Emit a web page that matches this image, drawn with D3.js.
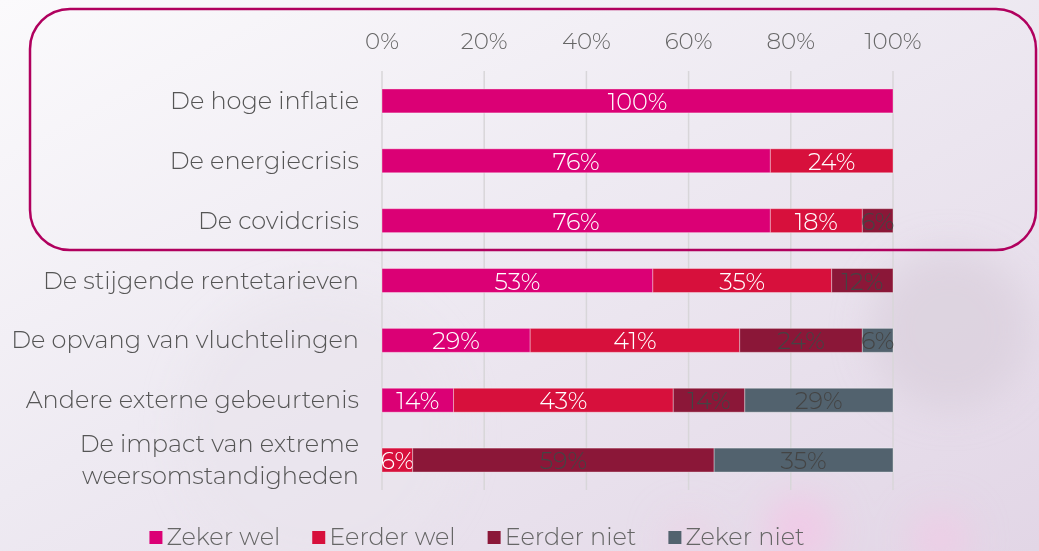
<!DOCTYPE html>
<meta charset="utf-8">
<style>
body { margin: 0; }
svg { display: block; font-family: "Montserrat", "Lato", sans-serif; font-weight: 300; }
</style>
<body>
<svg width="1039" height="551" id="chart"></svg>
<script src="https://d3js.org/d3.v7.min.js"></script>
<script>

var categories = [
    "De hoge inflatie",
    "De energiecrisis",
    "De covidcrisis",
    "De stijgende rentetarieven",
    "De opvang van vluchtelingen",
    "Andere externe gebeurtenis",
    "De impact van extreme|weersomstandigheden"
];
var series = ["Zeker wel", "Eerder wel", "Eerder niet", "Zeker niet"];
var zekerWel   = [100, 76, 76, 53, 29, 14, 0];
var eerderWel  = [0, 24, 18, 35, 41, 43, 6];
var eerderNiet = [0, 0, 6, 12, 24, 14, 59];
var zekerNiet  = [0, 0, 0, 0, 6, 29, 35];
var ticks = [0, 20, 40, 60, 80, 100];

var colors = ["#db0075", "#d7103c", "#8b1738", "#52626e"];
var labelColors = ["#fff", "#fff", "#444", "#444"];

var svg = d3.select("svg"),
    width = +svg.attr("width"),
    height = +svg.attr("height");

// background
var defs = svg.append("defs");
var bg = defs.append("linearGradient").attr("id", "bg").attr("x1", 0).attr("y1", 0).attr("x2", 1).attr("y2", 1);
bg.append("stop").attr("offset", "0%").attr("stop-color", "#fbfafc");
bg.append("stop").attr("offset", "45%").attr("stop-color", "#eeeaf2");
bg.append("stop").attr("offset", "100%").attr("stop-color", "#e2d6e6");
var blur = defs.append("filter").attr("id", "blur").attr("x", "-1").attr("y", "-1").attr("width", "3").attr("height", "3");
blur.append("feGaussianBlur").attr("stdDeviation", 18);

svg.append("rect").attr("width", width).attr("height", height).attr("fill", "url(#bg)");
var blobs = svg.append("g").attr("filter", "url(#blur)");
blobs.append("circle").attr("cx", 950).attr("cy", 330).attr("r", 80).attr("fill", "#d9cfdc").attr("opacity", 0.7);
blobs.append("circle").attr("cx", 800).attr("cy", 530).attr("r", 35).attr("fill", "#f2c6e6").attr("opacity", 0.8);
blobs.append("circle").attr("cx", 940).attr("cy", 540).attr("r", 30).attr("fill", "#f0cbe6").attr("opacity", 0.8);
blobs.append("circle").attr("cx", 690).attr("cy", 540).attr("r", 25).attr("fill", "#ecd0e6").attr("opacity", 0.7);
blobs.append("circle").attr("cx", 320).attr("cy", 430).attr("r", 140).attr("fill", "#e9e4ec").attr("opacity", 0.6);

var x = d3.scaleLinear().domain([0, 100]).range([382, 893]);
var y = d3.scaleBand().domain(categories).range([71, 490]).paddingInner(0.6).paddingOuter(0.3);

// gridlines
svg.append("g").selectAll("line")
    .data(ticks)
    .enter().append("line")
    .attr("x1", d => x(d)).attr("x2", d => x(d))
    .attr("y1", 71).attr("y2", 490)
    .attr("stroke", "#d8d6d9").attr("stroke-width", 1.5);

// top axis labels
svg.append("g").selectAll("text")
    .data(ticks)
    .enter().append("text")
    .attr("x", d => x(d)).attr("y", 49)
    .attr("text-anchor", "middle")
    .attr("font-size", 23)
    .attr("fill", "#666")
    .text(d => d + "%");

// category labels
var cat = svg.append("g").selectAll("text")
    .data(categories)
    .enter().append("text")
    .attr("text-anchor", "end")
    .attr("font-size", 24)
    .attr("fill", "#555");
cat.each(function(d) {
    var lines = d.split("|");
    var cy = y(d) + y.bandwidth() / 2;
    var t = d3.select(this);
    lines.forEach(function(l, i) {
        t.append("tspan")
            .attr("x", 359)
            .attr("y", cy + 8 + (i - (lines.length - 1) / 2) * 32)
            .text(l);
    });
});

// stacked data
var rows = categories.map(function(c, i) {
    return { cat: c, "Zeker wel": zekerWel[i], "Eerder wel": eerderWel[i], "Eerder niet": eerderNiet[i], "Zeker niet": zekerNiet[i] };
});
var stack = d3.stack().keys(series)(rows);

var layers = svg.append("g").selectAll("g")
    .data(stack)
    .enter().append("g");

layers.selectAll("rect")
    .data(d => d.filter(s => s[1] - s[0] > 0))
    .enter().append("rect")
    .attr("x", d => x(d[0]))
    .attr("width", d => x(d[1]) - x(d[0]))
    .attr("y", d => y(d.data.cat))
    .attr("height", y.bandwidth())
    .attr("fill", function() { return colors[series.indexOf(d3.select(this.parentNode).datum().key)]; })
    .attr("stroke", "rgba(255,255,255,0.35)")
    .attr("stroke-width", 1);

layers.selectAll("text")
    .data(function(d) { var k = series.indexOf(d.key); return d.filter(s => s[1] - s[0] > 0).map(s => ({ s: s, k: k })); })
    .enter().append("text")
    .attr("x", d => (x(d.s[0]) + x(d.s[1])) / 2)
    .attr("y", d => y(d.s.data.cat) + y.bandwidth() / 2 + 9)
    .attr("text-anchor", "middle")
    .attr("font-size", 24)
    .attr("fill", d => labelColors[d.k])
    .text(d => Math.round(d.s[1] - d.s[0]) + "%");

// highlight box round the first three rows
svg.append("rect")
    .attr("x", 30).attr("y", 9)
    .attr("width", 1006).attr("height", 241)
    .attr("rx", 40).attr("ry", 40)
    .attr("fill", "none")
    .attr("stroke", "#b0005e")
    .attr("stroke-width", 2.5);

// legend, laid out from measured text widths
var legend = svg.append("g");
var lx = 0;
series.forEach(function(s, i) {
    var g = legend.append("g").attr("transform", "translate(" + lx + ",0)");
    g.append("rect").attr("y", -14).attr("width", 13).attr("height", 13).attr("fill", colors[i]);
    var t = g.append("text").attr("x", 17).attr("font-size", 24).attr("fill", "#666").text(s);
    lx += 17 + t.node().getComputedTextLength() + 32;
});
var lw = lx - 32;
legend.attr("transform", "translate(" + (477 - lw / 2) + ",545)");

</script>
</body>
